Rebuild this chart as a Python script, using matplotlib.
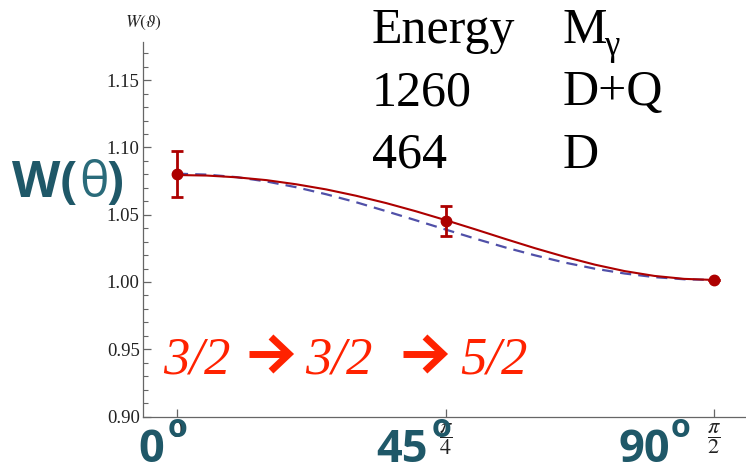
import numpy as np
import matplotlib
matplotlib.use("Agg")
import matplotlib.pyplot as plt
from matplotlib.ticker import MultipleLocator
from matplotlib.lines import Line2D

plt.rcParams['mathtext.fontset'] = 'stix'

# ---- data ----
theta_pts = [0, 45, 90]                 # degrees
w_pts = [1.0804, 1.0453, 1.0018]
w_err = [0.017, 0.011, 0.0]

theta_fit = [0, 5, 10, 15, 20, 25, 30, 35, 40, 45, 50, 55, 60, 65, 70, 75, 80, 85, 90]
solid_fit = [1.0795, 1.0791, 1.0778, 1.0757, 1.0726, 1.0688, 1.0641, 1.0587, 1.0526,
             1.0460, 1.0391, 1.0320, 1.0251, 1.0187, 1.0129, 1.0081, 1.0045, 1.0023, 1.0015]
dashed_fit = [1.0805, 1.0798, 1.0779, 1.0747, 1.0704, 1.0652, 1.0593, 1.0527, 1.0459,
              1.0390, 1.0322, 1.0257, 1.0198, 1.0144, 1.0099, 1.0063, 1.0036, 1.0020, 1.0015]

x_ticks = [0, 45, 90]
x_ticklabels = ["0", r"$\dfrac{\pi}{4}$", r"$\dfrac{\pi}{2}$"]
y_ticks = [0.90, 0.95, 1.00, 1.05, 1.10, 1.15]
y_ticklabels = ["0.90", "0.95", "1.00", "1.05", "1.10", "1.15"]

table_rows = [["Energy", "M"], ["1260", "D+Q"], ["464", "D"]]
big_angles = ["0", "45", "90"]
cascade = ["3/2", "3/2", "5/2"]

W, H = 746, 469
fig = plt.figure(figsize=(W / 100, H / 100), dpi=100)

def fx(px):
    return px / W

def fy(py):
    return 1 - py / H

left_px, bottom_px, top_px = 142.5, 416.5, 41.7
ax = fig.add_axes([fx(left_px), fy(bottom_px), 1 - fx(left_px), (bottom_px - top_px) / H])
ax.set_xlim(-5.78, 95.36)
ax.set_ylim(0.90, 1.1786)

red = '#ad0000'
blue = '#5050a8'
ax.plot(theta_fit, dashed_fit, color=blue, lw=1.6, dashes=(5, 3.2), zorder=2)
ax.plot(theta_fit, solid_fit, color=red, lw=1.5, zorder=3)
ax.errorbar(theta_pts, w_pts, yerr=w_err, fmt='o', color=red, ms=7.5,
            elinewidth=2.0, capsize=4, capthick=2.0, zorder=4)

for s in ['top', 'right']:
    ax.spines[s].set_visible(False)
for s in ['left', 'bottom']:
    ax.spines[s].set_color('#666666')
    ax.spines[s].set_linewidth(0.9)

ax.set_yticks(y_ticks)
ax.set_yticklabels(y_ticklabels, family='Liberation Serif', fontsize=13.5, color='#222222')
ax.yaxis.set_minor_locator(MultipleLocator(0.01))
ax.set_xticks(x_ticks)
ax.set_xticklabels(x_ticklabels, fontsize=16, color='#222222')
ax.tick_params(axis='y', which='major', direction='in', length=6, width=0.9, color='#666666', pad=2)
ax.tick_params(axis='y', which='minor', direction='in', length=3.5, width=0.8, color='#666666')
ax.tick_params(axis='x', which='major', direction='in', length=6, width=0.9, color='#666666', pad=3)

# small axis label on top
fig.text(fx(125), fy(27), r"$W(\vartheta)$", fontsize=12.5, color='#222222', va='baseline')

# big teal overlays
teal = '#1f5868'
sans = ['Open Sans', 'DejaVu Sans']
fig.text(fx(12), fy(197), "W(", family=sans, fontweight='bold',
         fontsize=36, color=teal, va='baseline')
fig.text(fx(79), fy(197), "θ", family=sans, fontweight='normal',
         fontsize=36, color='#2a6b7a', va='baseline')
fig.text(fx(106), fy(197), ")", family=sans, fontweight='bold',
         fontsize=36, color=teal, va='baseline')
for lab, px, dpx in zip(big_angles, [138, 376, 618], [168, 432, 671]):
    fig.text(fx(px), fy(462), lab, family=sans, fontweight='bold',
             fontsize=32.5, color=teal, va='baseline', zorder=10)
    fig.text(fx(dpx), fy(437), "o", family=sans, fontweight='bold',
             fontsize=23, color=teal, va='baseline', zorder=10)

# table text
serif = 'Liberation Serif'
row_y = [43, 105, 168]
for (c1, c2), py in zip(table_rows, row_y):
    fig.text(fx(372), fy(py), c1, family=serif, fontsize=36, color='black', va='baseline')
    fig.text(fx(563), fy(py), c2, family=serif, fontsize=36, color='black', va='baseline')
fig.text(fx(604), fy(55), "γ", family=serif, fontsize=25, color='black', va='baseline')

# red spin cascade
rc = '#ff2200'
for lab, px in zip(cascade, [163, 305, 460]):
    fig.text(fx(px), fy(373), lab, family=serif, style='italic', fontsize=38,
             color=rc, va='baseline')
# arrows between the spins (decorative)
for x0 in [249, 403]:
    shaft = Line2D([fx(x0), fx(x0 + 38)], [fy(354), fy(354)], transform=fig.transFigure,
                   color=rc, lw=5.0, solid_capstyle='butt')
    head = Line2D([fx(x0 + 22), fx(x0 + 40), fx(x0 + 22)], [fy(337), fy(354), fy(371)],
                  transform=fig.transFigure, color=rc, lw=5.0, solid_joinstyle='miter',
                  solid_capstyle='butt')
    fig.add_artist(shaft)
    fig.add_artist(head)

fig.savefig('out.png', dpi=100)
